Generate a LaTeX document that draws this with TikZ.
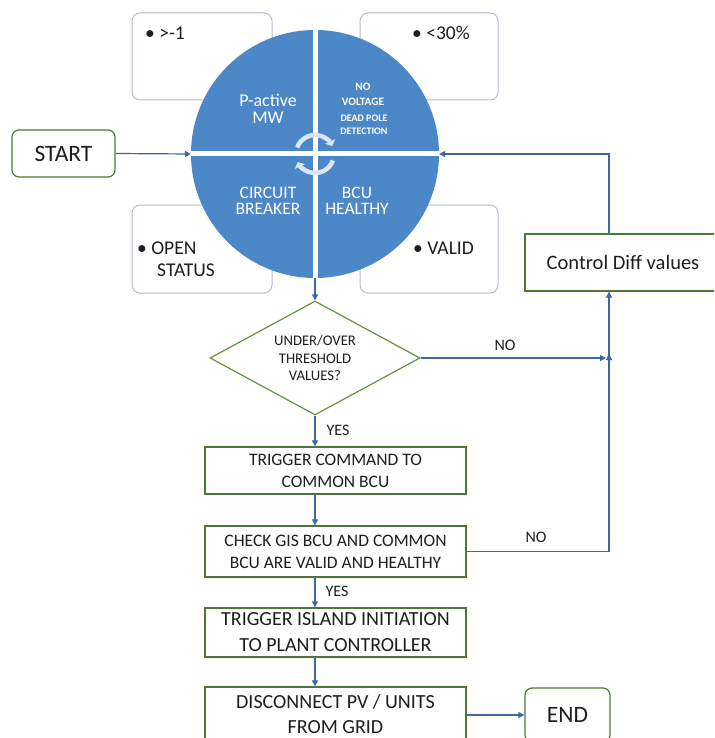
\documentclass[tikz,border=0pt]{standalone}
\usepackage{fontspec}
\setmainfont{Carlito}
\usetikzlibrary{arrows.meta,shapes.geometric}
\definecolor{cblue}{RGB}{76,135,199}
\definecolor{lblue}{RGB}{60,105,165}
\definecolor{bgreen}{RGB}{78,120,52}
\definecolor{dgreen}{RGB}{105,145,62}
\definecolor{gbord}{RGB}{180,190,205}
\definecolor{cyc}{RGB}{218,230,243}
\definecolor{txt}{RGB}{30,30,30}
\begin{document}
\begin{tikzpicture}[x=1pt,y=-1pt,
  conn/.style={draw=lblue,line width=1.2pt,-{Triangle[length=6pt,width=6pt]}},
  procbox/.style={draw=bgreen,line width=1.3pt,fill=white,rectangle,inner sep=0,align=center,text=txt},
  termbox/.style={draw=bgreen,line width=1.2pt,fill=white,rectangle,rounded corners=7pt,inner sep=0,align=center,text=txt},
  graybox/.style={draw=gbord,line width=1pt,fill=white,rectangle,rounded corners=8pt,inner sep=0},
  bullet/.style={anchor=west,inner sep=0,text=txt,font=\fontsize{19.5}{23}\selectfont},
  intxt/.style={text=white,align=center,inner sep=0},
  lbl/.style={text=txt,inner sep=0,font=\fontsize{16}{18}\selectfont}]
\clip (0,0) rectangle (714,738);
\fill[white] (0,0) rectangle (714,738);
% gray boxes behind circle
\node[graybox,minimum width=140pt,minimum height=87pt] (tl) at (202,56.5) {};
\node[graybox,minimum width=138pt,minimum height=87pt] (tr) at (429,56.5) {};
\node[graybox,minimum width=140pt,minimum height=88pt] (bl) at (202,249) {};
\node[graybox,minimum width=138pt,minimum height=88pt] (br) at (429,249) {};
\node[bullet] (tlt) at (145,33) {• >-1};
\node[bullet] (trt) at (412,33) {• <30\%};
\node[bullet] (blt) at (137,248) {• OPEN};
\node[bullet] (blt2) at (157,270) {STATUS};
\node[bullet] (brt) at (413,248) {• VALID};
% circle
\node[circle,fill=cblue,minimum size=248pt,inner sep=0] (circ) at (315,154) {};
\draw[white,line width=5pt] (circ.north) -- (circ.south);
\draw[white,line width=5pt] (circ.west) -- (circ.east);
\node[intxt,font=\fontsize{18}{18}\selectfont] (pa) at (268,100) {P-active};
\node[intxt,font=\fontsize{18}{18}\selectfont] (mw) at (268,118) {MW};
\node[intxt,font=\bfseries\fontsize{11.3}{14.5}\selectfont] (nv) at (363,94.5) {NO\\VOLTAGE};
\node[intxt,font=\bfseries\fontsize{10}{12.5}\selectfont] (dp) at (364,125) {DEAD POLE\\DETECTION};
\node[intxt,font=\fontsize{17.5}{16}\selectfont] (cb) at (268,201) {CIRCUIT\\BREAKER};
\node[intxt,font=\fontsize{17.5}{16}\selectfont] (bh) at (357,201) {BCU\\HEALTHY};
% cycle arrows
\draw[cyc,line width=4.5pt,-{Triangle[length=5pt,width=11pt]}] (circ.center) ++(200:19) arc[start angle=200,end angle=335,radius=19];
\draw[cyc,line width=4.5pt,-{Triangle[length=5pt,width=11pt]}] (circ.center) ++(20:19) arc[start angle=20,end angle=155,radius=19];
% start
\node[termbox,minimum width=103pt,minimum height=47pt,font=\fontsize{23.5}{26}\selectfont] (start) at (63.5,153.5) {START};
% control diff
\node[procbox,minimum width=196pt,minimum height=57pt,font=\fontsize{20.5}{24}\selectfont] (ctrl) at (623,262.5) {Control Diff values};
% diamond
\node[diamond,aspect=1.84,draw=dgreen,line width=1.2pt,fill=white,inner sep=0,minimum width=210pt,minimum height=114pt,align=center,text=txt,font=\fontsize{14.7}{17.5}\selectfont] (dia) at (315,358) {UNDER/OVER\\THRESHOLD\\VALUES?};
% process boxes
\node[procbox,minimum width=261pt,minimum height=47pt,font=\fontsize{17.5}{22}\selectfont] (b1) at (335.5,470.5) {TRIGGER COMMAND TO\\COMMON BCU};
\node[procbox,minimum width=261pt,minimum height=51pt,font=\fontsize{17.5}{22}\selectfont] (b2) at (335.5,551.5) {CHECK GIS BCU AND COMMON\\BCU ARE VALID AND HEALTHY};
\node[procbox,minimum width=261pt,minimum height=49pt,font=\fontsize{20}{26}\selectfont] (b3) at (335.5,632.5) {TRIGGER ISLAND INITIATION\\TO PLANT CONTROLLER};
\node[procbox,minimum width=261pt,minimum height=54pt,font=\fontsize{20}{25}\selectfont] (b4) at (335.5,714) {DISCONNECT PV / UNITS\\FROM GRID};
\node[termbox,minimum width=85pt,minimum height=54pt,font=\fontsize{23.5}{26}\selectfont] (end) at (567.5,715) {END};
% coordinates
\coordinate (vx) at (609,358);
\coordinate (loopTop) at (609,154);
\coordinate (c1) at (315,0);
% connectors
\draw[conn] (start.east) -- (circ.west);
\draw[conn] (ctrl.north -| loopTop) -- (loopTop) -- (circ.east);
\draw[conn] (circ.south) -- (dia.north);
\draw[conn] (dia.east) -- ([xshift=-3pt]vx);
\draw[conn] (vx) -- (ctrl.south -| vx);
\draw[conn] (b2.east) -- (b2.east -| vx) -- ([yshift=4pt]vx);
\draw[conn] (dia.south) -- (dia.south |- b1.north);
\draw[conn] (b1.south -| c1) -- (b2.north -| c1);
\draw[conn] (b2.south -| c1) -- (b3.north -| c1);
\draw[conn] (b3.south -| c1) -- (b4.north -| c1);
\draw[conn] (b4.east |- end.west) -- (end.west);
% labels
\node[lbl] (yes1) at (338,430) {YES};
\node[lbl] (no1) at (505,345) {NO};
\node[lbl] (no2) at (536,537) {NO};
\node[lbl] (yes2) at (337,591) {YES};
\end{tikzpicture}
\end{document}
